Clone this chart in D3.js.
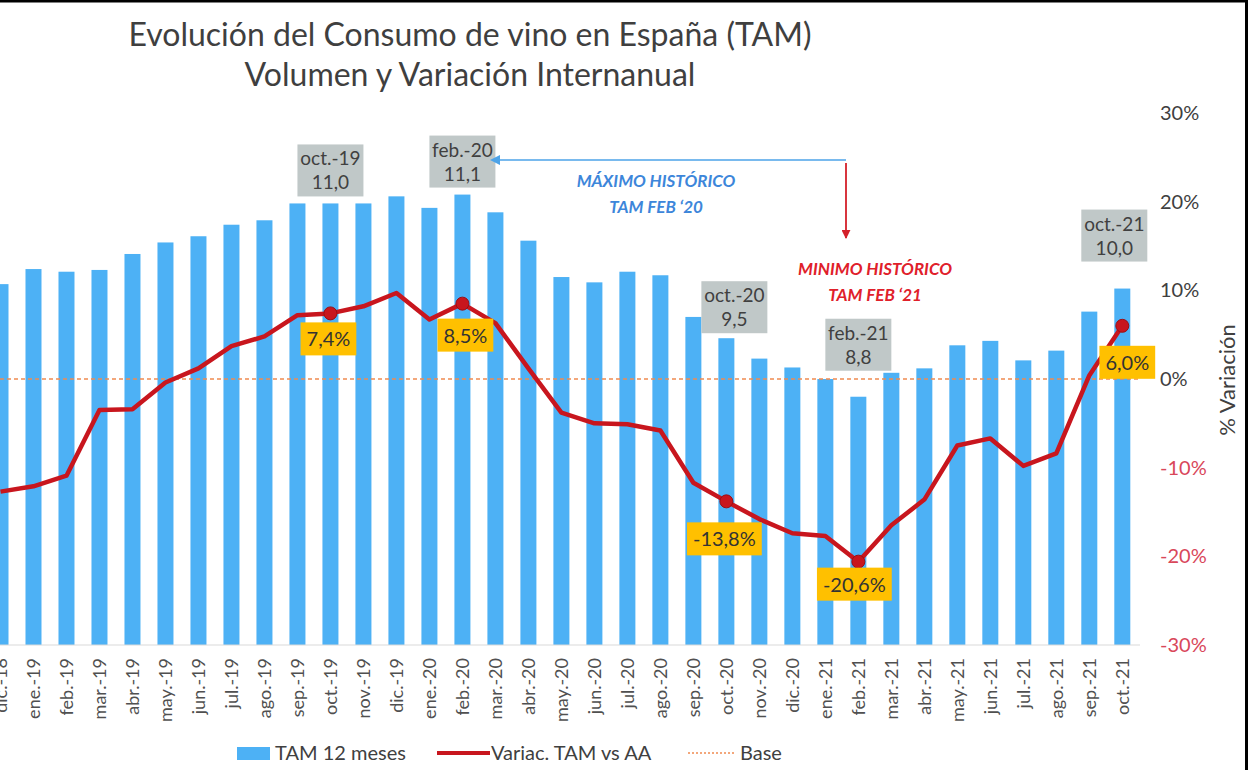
<!DOCTYPE html>
<html>
<head>
<meta charset="utf-8">
<script src="https://cdn.jsdelivr.net/npm/d3@7"></script>
<style>
  html, body { margin: 0; padding: 0; background: #fff; }
  svg { display: block; }
  text { font-family: Lato, "Open Sans", sans-serif; }
</style>
</head>
<body>
<svg id="chart" width="1248" height="770"></svg>
<script>
// ---------- DATA ----------
const months = ["dic.-18","ene.-19","feb.-19","mar.-19","abr.-19","may.-19","jun.-19","jul.-19","ago.-19","sep.-19",
  "oct.-19","nov.-19","dic.-19","ene.-20","feb.-20","mar.-20","abr.-20","may.-20","jun.-20","jul.-20","ago.-20",
  "sep.-20","oct.-20","nov.-20","dic.-20","ene.-21","feb.-21","mar.-21","abr.-21","may.-21","jun.-21","jul.-21",
  "ago.-21","sep.-21","oct.-21"];
const tamValues = [10.07,10.24,10.21,10.23,10.41,10.54,10.61,10.74,10.79,10.98,
  10.98,10.98,11.06,10.93,11.08,10.88,10.56,10.15,10.09,10.21,10.17,
  9.70,9.46,9.23,9.13,9.00,8.80,9.07,9.12,9.38,9.43,9.21,
  9.32,9.76,10.02];
const variacion = [-12.7,-12.1,-10.9,-3.5,-3.4,-0.4,1.2,3.7,4.8,7.2,
  7.4,8.2,9.7,6.7,8.5,6.3,1.2,-3.8,-5.0,-5.1,-5.8,
  -11.7,-13.8,-15.8,-17.4,-17.7,-20.6,-16.5,-13.6,-7.5,-6.7,-9.8,
  -8.4,0.4,6.0];
const highlightMonths = ["oct.-19","feb.-20","oct.-20","feb.-21","oct.-21"];
const rightTicks = [-30,-20,-10,0,10,20,30];
const leftDomain = [6, 12];
const rightDomain = [-30, 30];
const titleLines = ["Evolución del Consumo de vino en España (TAM)", "Volumen y Variación Internanual"];
const legendLabels = ["TAM 12 meses", "Variac. TAM vs AA", "Base"];
const annotMax = ["MÁXIMO HISTÓRICO", "TAM FEB ‘20"];
const annotMin = ["MINIMO HISTÓRICO", "TAM FEB ‘21"];

// ---------- LAYOUT ----------
const W = 1248, H = 770;
const plotTop = 113, plotBottom = 645;
const svg = d3.select("#chart");
const fmt1 = v => v.toFixed(1).replace(".", ",");

const x = d3.scalePoint().domain(months).range([0.5, 1122.3]);
const barW = 16;
const yL = d3.scaleLinear().domain(leftDomain).range([plotBottom, plotTop]);
const yR = d3.scaleLinear().domain(rightDomain).range([plotBottom, plotTop]);

const BAR = "#4DB1F5", LINE = "#C8161E", GRAY = "#404040", NEG = "#D9475A";

// Title
svg.append("g").selectAll("text").data(titleLines).join("text")
  .attr("x", 470).attr("y", (d, i) => 46 + i * 40)
  .attr("text-anchor", "middle").attr("font-size", 32).attr("fill", "#3f3f3f")
  .text(d => d);

// Bars
svg.append("g").selectAll("rect").data(months).join("rect")
  .attr("x", d => x(d) - barW / 2)
  .attr("width", barW)
  .attr("y", (d, i) => yL(tamValues[i]))
  .attr("height", (d, i) => plotBottom - yL(tamValues[i]))
  .attr("fill", BAR);

// Base line
svg.append("line")
  .attr("x1", 0).attr("x2", 1140)
  .attr("y1", yR(0)).attr("y2", yR(0))
  .attr("stroke", "#F08A50").attr("stroke-width", 1.3)
  .attr("stroke-dasharray", "4,3");

// Variation line
const lineGen = d3.line().x((d, i) => x(months[i])).y(d => yR(d));
svg.append("path").datum(variacion)
  .attr("d", lineGen).attr("fill", "none")
  .attr("stroke", LINE).attr("stroke-width", 4.5).attr("stroke-linejoin", "round");

// Right axis
const rAxis = svg.append("g").attr("transform", "translate(1160,0)")
  .call(d3.axisRight(yR).tickValues(rightTicks).tickSize(0).tickPadding(0)
    .tickFormat(d => d + "%"));
rAxis.select(".domain").remove();
rAxis.selectAll("text")
  .attr("font-family", "Lato, 'Open Sans', sans-serif")
  .attr("font-size", 20)
  .attr("fill", d => d < 0 ? NEG : GRAY);

svg.append("text")
  .attr("transform", "translate(1235,380) rotate(-90)")
  .attr("text-anchor", "middle").attr("font-size", 22).attr("fill", GRAY)
  .text("% Variación");

// X axis labels
const xAxis = svg.append("g").attr("transform", `translate(0,${plotBottom})`)
  .call(d3.axisBottom(x).tickSize(0).tickPadding(0));
xAxis.select(".domain").attr("stroke", "#d9d9d9").attr("d", "M0,0H1140");
xAxis.selectAll("text")
  .attr("font-family", "Lato, 'Open Sans', sans-serif")
  .attr("font-size", 18).attr("fill", "#505050")
  .attr("transform", "rotate(-90)")
  .attr("text-anchor", "end")
  .attr("x", -13).attr("y", 0).attr("dy", "0.35em");

// Highlight gray boxes (month / value)
const grayOffsets = { "oct.-19": [0, 7], "feb.-20": [0, 7], "oct.-20": [8, 5], "feb.-21": [0, 26], "oct.-21": [-8, 27] };
const gBoxes = svg.append("g");
highlightMonths.forEach(m => {
  const i = months.indexOf(m);
  const [dx, gap] = grayOffsets[m];
  const cx = x(m) + dx;
  const b = yL(tamValues[i]) - gap;
  const g = gBoxes.append("g");
  g.append("rect").attr("x", cx - 33).attr("y", b - 52).attr("width", 66).attr("height", 52).attr("fill", "#C0C8C8");
  g.append("text").attr("x", cx).attr("y", b - 31).attr("text-anchor", "middle").attr("font-size", 19).attr("fill", GRAY).text(m);
  g.append("text").attr("x", cx).attr("y", b - 7).attr("text-anchor", "middle").attr("font-size", 19).attr("fill", GRAY).text(fmt1(tamValues[i]));
});

// Dots and orange labels
const orangeOffsets = { "oct.-19": [-2, 9], "feb.-20": [3, 15], "oct.-20": [-2, 21], "feb.-21": [-4, 6], "oct.-21": [5, 20] };
const gLab = svg.append("g");
highlightMonths.forEach(m => {
  const i = months.indexOf(m);
  const px = x(m), py = yR(variacion[i]);
  gLab.append("circle").attr("cx", px).attr("cy", py).attr("r", 6.5)
    .attr("fill", "#C8161E").attr("stroke", "#9a0f15").attr("stroke-width", 1);
  const [dx, gap] = orangeOffsets[m];
  const g = gLab.append("g");
  const r = g.append("rect").attr("fill", "#FFC000");
  const t = g.append("text").attr("x", px + dx).attr("y", py + gap + 24)
    .attr("text-anchor", "middle").attr("font-size", 20).attr("fill", "#333")
    .text(fmt1(variacion[i]) + "%");
  const bb = t.node().getBBox();
  r.attr("x", px + dx - bb.width / 2 - 6).attr("y", py + gap).attr("width", bb.width + 12).attr("height", 33);
});

// Annotations: arrows
const defs = svg.append("defs");
defs.append("marker").attr("id", "arrBlue").attr("viewBox", "0 0 10 10").attr("refX", 1).attr("refY", 5)
  .attr("markerWidth", 7).attr("markerHeight", 7).attr("orient", "auto-start-reverse")
  .append("path").attr("d", "M0,0L10,5L0,10z").attr("fill", "#4DA3E8");
defs.append("marker").attr("id", "arrRed").attr("viewBox", "0 0 10 10").attr("refX", 9).attr("refY", 5)
  .attr("markerWidth", 5).attr("markerHeight", 5).attr("orient", "auto")
  .append("path").attr("d", "M0,0L10,5L0,10z").attr("fill", "#D4202A");

const ax = 846, ay = 160;
svg.append("line").attr("x1", ax).attr("y1", ay).attr("x2", x("feb.-20") + 37).attr("y2", ay)
  .attr("stroke", "#4DA3E8").attr("stroke-width", 1.5).attr("marker-end", "url(#arrBlue)");
svg.append("line").attr("x1", ax).attr("y1", ay + 3).attr("x2", ax).attr("y2", 238)
  .attr("stroke", "#D4202A").attr("stroke-width", 1.8).attr("marker-end", "url(#arrRed)");

svg.append("g").selectAll("text").data(annotMax).join("text")
  .attr("x", 656).attr("y", (d, i) => 187 + i * 26).attr("text-anchor", "middle")
  .attr("font-size", 17).attr("font-weight", "bold").attr("font-style", "italic").attr("fill", "#3D86DA")
  .text(d => d);
svg.append("g").selectAll("text").data(annotMin).join("text")
  .attr("x", 875).attr("y", (d, i) => 275 + i * 26).attr("text-anchor", "middle")
  .attr("font-size", 17).attr("font-weight", "bold").attr("font-style", "italic").attr("fill", "#E0202A")
  .text(d => d);

// Legend
const lg = svg.append("g");
lg.append("rect").attr("x", 237).attr("y", 747).attr("width", 33).attr("height", 13).attr("fill", BAR);
lg.append("text").attr("x", 275).attr("y", 760).attr("font-size", 20).attr("fill", GRAY).text(legendLabels[0]);
lg.append("line").attr("x1", 437).attr("x2", 490).attr("y1", 753).attr("y2", 753).attr("stroke", LINE).attr("stroke-width", 4);
lg.append("text").attr("x", 491).attr("y", 760).attr("font-size", 20).attr("fill", GRAY).text(legendLabels[1]);
lg.append("line").attr("x1", 688).attr("x2", 734).attr("y1", 753).attr("y2", 753).attr("stroke", "#F08A50").attr("stroke-width", 1.3).attr("stroke-dasharray", "2,2");
lg.append("text").attr("x", 740).attr("y", 760).attr("font-size", 20).attr("fill", GRAY).text(legendLabels[2]);

// Frame borders (top and right black edges)
svg.append("rect").attr("x", 0).attr("y", 0).attr("width", W).attr("height", 2.5).attr("fill", "#000");
svg.append("rect").attr("x", 1245).attr("y", 0).attr("width", 3).attr("height", H).attr("fill", "#000");
</script>
</body>
</html>
